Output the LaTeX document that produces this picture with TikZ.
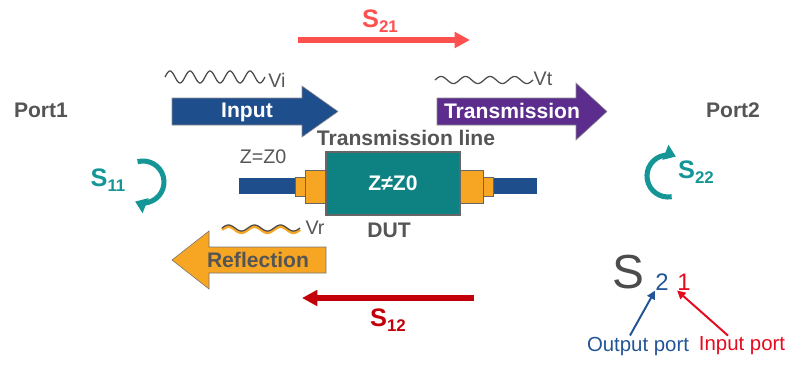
\documentclass[tikz,border=0pt]{standalone}
\usepackage{fontspec}
\setmainfont{Liberation Sans}
\usetikzlibrary{arrows.meta}
\definecolor{PortGray}{RGB}{85,85,85}
\definecolor{InBlue}{RGB}{31,78,140}
\definecolor{TrPurple}{RGB}{92,45,140}
\definecolor{RefOrange}{RGB}{247,166,35}
\definecolor{DutTeal}{RGB}{14,130,130}
\definecolor{LoopTeal}{RGB}{20,150,150}
\definecolor{SRed}{RGB}{255,80,80}
\definecolor{SDark}{RGB}{195,0,10}
\definecolor{OutBlue}{RGB}{35,85,150}
\definecolor{InRed}{RGB}{230,10,30}
\newcommand{\lblfont}{\fontsize{15}{18}\selectfont\bfseries}
\begin{document}
\begin{tikzpicture}[x=0.025cm,y=-0.025cm,
    lbl/.style={inner sep=0pt,text=PortGray,font=\lblfont},
    plain/.style={inner sep=0pt,text=PortGray,font=\fontsize{14}{16}\selectfont},
    slbl/.style={inner sep=0pt,font=\fontsize{18}{20}\selectfont\bfseries},
    bigarrow/.style={draw=black!45,line width=0.4pt},
    wave/.style={draw=black!70,line width=0.9pt},
    sarrow/.style={line width=3.6pt,-{Triangle[length=11pt,width=11pt]}},
    loop/.style={LoopTeal,line width=3.6pt,-{Triangle[length=8pt,width=11pt]}},
    plug/.style={fill=RefOrange,draw=black!60,line width=0.5pt},
    dut/.style={fill=DutTeal,draw=black!60,line width=0.8pt,text=white,font=\lblfont,
        minimum width=3.35cm,minimum height=1.575cm,inner sep=0pt},
    pointer/.style={line width=1.4pt,-{Triangle[length=6pt,width=6pt]}}]
  \useasboundingbox (0,0) rectangle (790,364);
  \node[lbl] (port1) at (41,110) {Port1};
  \node[lbl] (port2) at (733,110) {Port2};
  \coordinate (s21a) at (298,40);
  \coordinate (s21b) at (470,40);
  \draw[sarrow,SRed] (s21a) -- (s21b);
  \node[slbl,text=SRed] (s21) at (380,21) {S\raisebox{-0.4ex}{\fontsize{12}{14}\selectfont 21}};
  \coordinate (s12a) at (474,298);
  \coordinate (s12b) at (302,298);
  \draw[sarrow,SDark] (s12a) -- (s12b);
  \node[slbl,text=SDark] (s12) at (388,320) {S\raisebox{-0.4ex}{\fontsize{12}{14}\selectfont 12}};
  \path[bigarrow,fill=InBlue] (172,98) -- (302,98) -- (302,86) -- (338,111.5) -- (302,137) -- (302,125) -- (172,125) -- cycle;
  \node[lbl,text=white] (input) at (247,112) {Input};
  \path[bigarrow,fill=TrPurple] (437,98) -- (576,98) -- (576,83) -- (607,111.5) -- (576,140) -- (576,125) -- (437,125) -- cycle;
  \node[lbl,text=white] (trans) at (512,111) {Transmission};
  \path[bigarrow,fill=RefOrange,draw=black!55] (326,247) -- (209,247) -- (209,231) -- (172,260) -- (209,289) -- (209,273) -- (326,273) -- cycle;
  \node[lbl] (refl) at (258,260) {Reflection};
  \draw[wave] plot[domain=0:100,samples=120] ({165+\x},{77-6*sin(18*\x)});
  \node[plain] (vi) at (277,80) {Vi};
  \draw[wave] plot[domain=0:98,samples=120] ({435+\x},{80-3.5*sin(14.7*\x)});
  \node[plain] (vt) at (543,79) {Vt};
  \draw[RefOrange,line width=2.2pt] plot[domain=0:78,samples=100] ({222+\x},{229.5-3*sin(13.85*\x)});
  \draw[wave] plot[domain=0:78,samples=100] ({222+\x},{228-3*sin(13.85*\x)});
  \node[plain] (vr) at (315,228) {Vr};
  \node[lbl] (tline) at (406,138) {Transmission line};
  \node[plain] (zz0) at (263,157) {Z=Z0};
  \fill[InBlue] (239,178) rectangle (537,194);
  \path[plug] (295,177) rectangle (305,196);
  \path[plug] (305,170) rectangle (326,203);
  \path[plug] (460,170) rectangle (483,203);
  \path[plug] (483,177) rectangle (493,196);
  \node[dut] (dut) at (393,183.5) {Z≠Z0};
  \node[lbl] (dutlbl) at (389,230) {DUT};
  \coordinate (c11) at (143,182);
  \draw[loop] ([shift={(-105:21)}]c11) arc[start angle=-105,end angle=112,radius=21];
  \node[slbl,text=LoopTeal] (s11) at (108,180) {S\raisebox{-0.4ex}{\fontsize{12}{14}\selectfont 11}};
  \coordinate (c22) at (668,176);
  \draw[loop] ([shift={(80:21)}]c22) arc[start angle=80,end angle=292,radius=21];
  \node[slbl,text=LoopTeal] (s22) at (696,172) {S\raisebox{-0.4ex}{\fontsize{12}{14}\selectfont 22}};
  \node[inner sep=0pt,text=black!70,font=\fontsize{34}{36}\selectfont] (bigs) at (628,272) {S};
  \node[inner sep=0pt,text=OutBlue,font=\fontsize{17}{19}\selectfont] (two) at (662,282) {2};
  \node[inner sep=0pt,text=InRed,font=\fontsize{17}{19}\selectfont] (one) at (684,282) {1};
  \node[inner sep=0pt,text=OutBlue,font=\fontsize{14.5}{16}\selectfont] (outport) at (638,346) {Output port};
  \node[inner sep=0pt,text=InRed,font=\fontsize{14.5}{16}\selectfont] (inport) at (742,346) {Input port};
  \draw[pointer,OutBlue] (outport.north) ++(-8,-1) coordinate (ob) (ob) -- (two.south west);
  \draw[pointer,InRed] (inport.north) ++(-14,-1) coordinate (ib) (ib) -- (one.south west);
\end{tikzpicture}
\end{document}
